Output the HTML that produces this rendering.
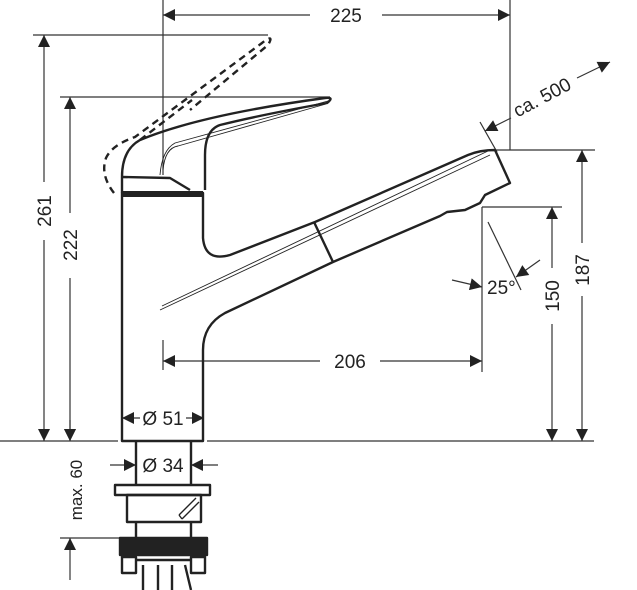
<!DOCTYPE html>
<html><head><style>html,body{margin:0;padding:0;background:#fff}svg{display:block}</style></head>
<body>
<svg width="637" height="590" viewBox="0 0 637 590" xmlns="http://www.w3.org/2000/svg" font-family="Liberation Sans, sans-serif">
<defs>
<marker id="a" viewBox="0 0 10 10" refX="10" refY="5" markerWidth="14" markerHeight="12" markerUnits="userSpaceOnUse" orient="auto"><path d="M0,0 L10,5 L0,10 z" fill="#222"/></marker>
</defs>
<g stroke="#333" stroke-width="1.2" fill="none">
<line x1="163" y1="0" x2="163" y2="175"/>
<line x1="510" y1="0" x2="510" y2="150"/>
<line x1="33" y1="35" x2="268" y2="35"/>
<line x1="60" y1="97" x2="330" y2="97"/>
<line x1="0" y1="441" x2="118" y2="441"/>
<line x1="207" y1="441" x2="594" y2="441"/>
<line x1="495" y1="150" x2="595" y2="150"/>
<line x1="482" y1="207" x2="562" y2="207"/>
<line x1="482" y1="207" x2="482" y2="372"/>
<line x1="163" y1="340" x2="163" y2="370"/>
<line x1="60" y1="538" x2="120" y2="538"/>
<line x1="310" y1="15" x2="163" y2="15" marker-end="url(#a)"/>
<line x1="382" y1="15" x2="510" y2="15" marker-end="url(#a)"/>
<line x1="44" y1="182" x2="44" y2="35" marker-end="url(#a)"/>
<line x1="44" y1="240" x2="44" y2="441" marker-end="url(#a)"/>
<line x1="70" y1="213" x2="70" y2="97" marker-end="url(#a)"/>
<line x1="70" y1="278" x2="70" y2="441" marker-end="url(#a)"/>
<line x1="320" y1="361" x2="163" y2="361" marker-end="url(#a)"/>
<line x1="380" y1="361" x2="482" y2="361" marker-end="url(#a)"/>
<line x1="552" y1="268" x2="552" y2="207" marker-end="url(#a)"/>
<line x1="552" y1="324" x2="552" y2="441" marker-end="url(#a)"/>
<line x1="582" y1="243" x2="582" y2="150" marker-end="url(#a)"/>
<line x1="582" y1="296" x2="582" y2="441" marker-end="url(#a)"/>
<line x1="480" y1="122" x2="497" y2="152"/>
<line x1="511" y1="118" x2="485" y2="131" marker-end="url(#a)"/>
<line x1="577" y1="78" x2="610" y2="62" marker-end="url(#a)"/>
<line x1="488" y1="222" x2="521" y2="290"/>
<line x1="452" y1="280" x2="482" y2="287" marker-end="url(#a)"/>
<line x1="540" y1="260" x2="516" y2="277" marker-end="url(#a)"/>
<line x1="140" y1="418" x2="122" y2="418" marker-end="url(#a)"/>
<line x1="186" y1="418" x2="204" y2="418" marker-end="url(#a)"/>
<line x1="110" y1="465" x2="136" y2="465" marker-end="url(#a)"/>
<line x1="218" y1="465" x2="191" y2="465" marker-end="url(#a)"/>
<line x1="70" y1="420" x2="70" y2="441" marker-end="url(#a)"/>
<line x1="70" y1="580" x2="70" y2="538" marker-end="url(#a)"/>
</g>
<g stroke="#222" stroke-width="2.4" fill="none" stroke-linejoin="round">
<path d="M122,441 L122,193 L203,193 L203,238 Q205,262 230,255 L315,222 L468,155 Q480,150 495,150 L510,183 L485,195 L480,203 L465,210 L447,212 L440,216 L333,262 L225,313 Q203,325 203,350 L203,441 Z"/>
<path d="M314,222 L333,262"/>
<path d="M122,177 L170,178 L190,190"/>
<path d="M122,193 L122,177 Q122,150 140,140 Q200,115 325,98 Q335,97 327,103 Q260,115 220,125 Q205,130 205,155 L205,190"/>
<path d="M160,310 L490,155 M162,306 L488,151" stroke-width="0.9"/>
<path d="M160,175 Q162,150 175,143 L328,101" stroke-width="0.9"/>
<path d="M163,170 Q165,148 178,146 L326,104" stroke-width="0.9"/>
<path d="M122,194 L203,194" stroke-width="6"/>
<path d="M114,193 Q100,175 106,158 Q112,145 135,137 L262,43 Q275,33 268,45 L190,110" stroke-dasharray="7,5"/>
<path d="M140,140 L192,100" stroke-dasharray="7,5"/>
<path d="M136,441 L136,485 M191,441 L191,485"/>
<rect x="115" y="485" width="95" height="10"/>
<rect x="127" y="495" width="74" height="27"/>
<path d="M179,515 L196,498 M182,519 L199,502 M179,515 L182,519" stroke-width="1.4"/>
<path d="M136,522 L136,537 M191,522 L191,537"/>
<rect x="120" y="538" width="87" height="17" fill="#222"/>
<rect x="122" y="557" width="14" height="16"/>
<rect x="191" y="557" width="14" height="16"/>
<path d="M136,560 L191,560 M143,565 L143,590 M158,565 L158,590 M172,565 L172,590 M185,565 L191,590"/>
</g>
<g fill="#222" font-size="19">
<text x="346" y="22" text-anchor="middle">225</text>
<text x="350" y="368" text-anchor="middle">206</text>
<text transform="translate(51,211) rotate(-90)" text-anchor="middle">261</text>
<text transform="translate(77,245) rotate(-90)" text-anchor="middle">222</text>
<text transform="translate(559,296) rotate(-90)" text-anchor="middle">150</text>
<text transform="translate(589,270) rotate(-90)" text-anchor="middle">187</text>
<text transform="translate(82,490) rotate(-90)" text-anchor="middle" font-size="17">max. 60</text>
<text transform="translate(545,103) rotate(-28)" text-anchor="middle">ca. 500</text>
<text x="487" y="294">25°</text>
<text x="163" y="425" text-anchor="middle">Ø 51</text>
<text x="163" y="472" text-anchor="middle">Ø 34</text>
</g>
</svg>
</body></html>
